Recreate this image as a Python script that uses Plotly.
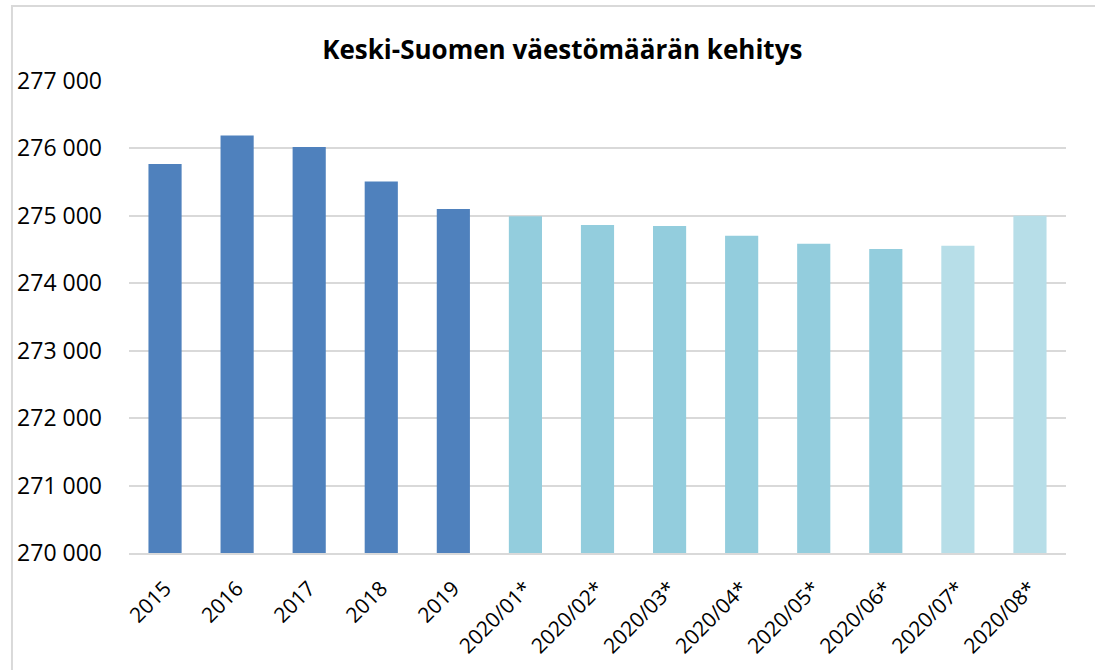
import plotly.graph_objects as go

categories = ["2015", "2016", "2017", "2018", "2019",
              "2020/01*", "2020/02*", "2020/03*", "2020/04*", "2020/05*",
              "2020/06*", "2020/07*", "2020/08*"]
population = [275770, 276190, 276020, 275510, 275100,
              274995, 274865, 274850, 274705, 274585,
              274510, 274555, 275000]
y_ticks = [270000, 271000, 272000, 273000, 274000, 275000, 276000, 277000]

DARK = "#4F81BD"
MID = "#93CDDD"
LIGHT = "#B7DEE8"
bar_colors = [DARK] * 5 + [MID] * 6 + [LIGHT] * 2

fig = go.Figure(go.Bar(
    x=categories,
    y=population,
    marker=dict(color=bar_colors, line=dict(width=0)),
    hoverinfo="x+y",
))

fig.update_layout(
    width=1095, height=670,
    margin=dict(l=129, r=29, t=81, b=117),
    paper_bgcolor="white", plot_bgcolor="white",
    separators=". ",
    bargap=0.54,
    showlegend=False,
    title=dict(
        text="<b>Keski-Suomen väestömäärän kehitys</b>",
        x=0.5135, xanchor="center", y=0.926, yanchor="middle",
        font=dict(family="Open Sans, Liberation Sans, sans-serif", size=26, color="black"),
    ),
    font=dict(family="Open Sans, Liberation Sans, sans-serif", color="black"),
    xaxis=dict(
        tickangle=-45,
        tickfont=dict(size=21, color="black"),
        showline=True, linecolor="#d9d9d9", linewidth=2,
        showgrid=False, ticks="", ticklabelstandoff=13,
        automargin=False,
    ),
    yaxis=dict(
        range=[270000, 277000],
        tickvals=y_ticks,
        tickformat=",d",
        tickfont=dict(size=23, color="black"),
        showgrid=True, gridcolor="#d9d9d9", gridwidth=2,
        zeroline=False, showline=False, ticks="",
        ticklabelstandoff=26, automargin=False,
    ),
    shapes=[dict(type="rect", xref="paper", yref="paper",
                 x0=-0.1249, x1=1.2, y0=-0.3, y1=1.159,
                 line=dict(color="#d9d9d9", width=2), fillcolor="rgba(0,0,0,0)",
                 layer="below")],
)

fig.write_html("out.html", config={"displayModeBar": False},
               post_script="document.body.style.margin='0px';")
